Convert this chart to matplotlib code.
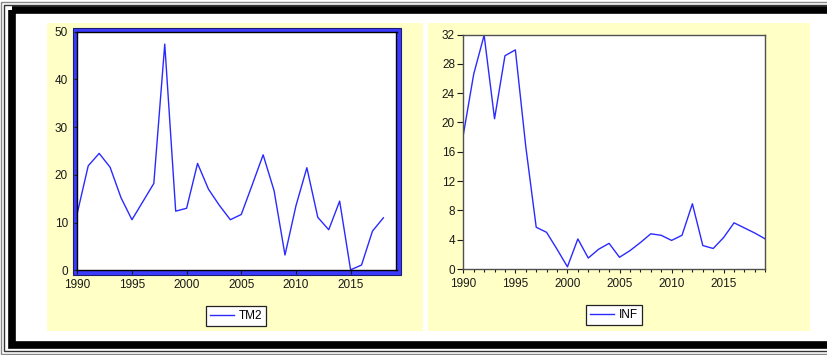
import matplotlib
matplotlib.use('Agg')
import matplotlib.pyplot as plt
from matplotlib.patches import Rectangle
import numpy as np

# data
years_tm2 = list(range(1990, 2019))
tm2 = [12.0, 21.9, 24.5, 21.6, 15.2, 10.6, 14.4, 18.2, 47.4, 12.4,
       13.0, 22.4, 17.0, 13.6, 10.6, 11.7, 17.9, 24.2, 16.7, 3.2,
       13.5, 21.5, 11.1, 8.5, 14.5, 0.1, 1.1, 8.2, 11.0]

years_inf = list(range(1990, 2020))
inf = [18.3, 26.6, 31.9, 20.5, 29.1, 29.9, 16.7, 5.7, 5.0, 2.7,
       0.3, 4.1, 1.5, 2.7, 3.5, 1.6, 2.5, 3.6, 4.8, 4.6,
       3.9, 4.6, 8.9, 3.2, 2.8, 4.3, 6.3, 5.6, 4.9, 4.1]

tm2_ticks = [0, 10, 20, 30, 40, 50]
inf_ticks = [0, 4, 8, 12, 16, 20, 24, 28, 32]
year_ticks = [1990, 1995, 2000, 2005, 2010, 2015]

W, H = 828, 355
plt.rcParams['font.family'] = ['Liberation Sans', 'DejaVu Sans']
fig = plt.figure(figsize=(W / 100, H / 100), dpi=100)
fig.patch.set_facecolor('white')


def px_axes(x0, y0, x1, y1, **kw):
    """Add axes given pixel box (top-left origin)."""
    return fig.add_axes([x0 / W, 1 - y1 / H, (x1 - x0) / W, (y1 - y0) / H], **kw)


# background: frame, yellow panels, blue selection box
bg = px_axes(0, 0, W, H, zorder=0)
bg.set_xlim(0, W)
bg.set_ylim(H, 0)
bg.axis('off')


def rect(x0, y0, x1, y1, **kw):
    bg.add_patch(Rectangle((x0, y0), x1 - x0, y1 - y0, **kw))


# outer border lines
rect(1.5, 1.5, W + 5, H - 1.5, fill=False, edgecolor='#888888', lw=1.0)
rect(4.5, 4.5, W + 5, H - 4.0, fill=False, edgecolor='#333333', lw=1.0)
rect(12, 10, W + 5, 345, fill=False, edgecolor='black', lw=5.5)

# yellow panels
yellow = '#ffffc6'
rect(47, 23, 423, 331, facecolor=yellow, edgecolor='none')
rect(428, 23, 810, 331, facecolor=yellow, edgecolor='none')

# blue box around the left graph
rect(73, 28, 401, 274.5, facecolor='#3b3bff', edgecolor='#1c1c70', lw=0.8)

tick_color = '#1a1a1a'

# left graph: TM2
ax1 = px_axes(77.3, 31.7, 396.5, 270.3, zorder=2)
ax1.set_facecolor('white')
ax1.plot(years_tm2, tm2, color='#2a2aff', lw=1.0, label='TM2')
ax1.set_xlim(1990, 2019.2)
ax1.set_ylim(0, 50)
ax1.set_xticks(year_ticks)
ax1.set_yticks(tm2_ticks)
for s in ax1.spines.values():
    s.set_color('black')
    s.set_linewidth(1.0)
ax1.tick_params(axis='y', direction='out', length=2.2, width=0.8, pad=4.5,
                labelsize=8.5, colors=tick_color)
ax1.tick_params(axis='x', direction='out', length=2.9, width=0.8, pad=3.6,
                labelsize=8.5, colors=tick_color)
leg1 = ax1.legend(loc='center', bbox_to_anchor=(236 / W, 1 - 316 / H),
                  bbox_transform=fig.transFigure, fontsize=8.5, frameon=True,
                  fancybox=False, framealpha=1, edgecolor='#222222',
                  handlelength=2.0, handletextpad=0.4, borderpad=0.35,
                  borderaxespad=0)
leg1.get_frame().set_linewidth(0.9)

# right graph: INF
ax2 = px_axes(463.3, 34.5, 765.3, 269.0, zorder=2)
ax2.set_facecolor('white')
ax2.plot(years_inf, inf, color='#2a2aff', lw=1.0, label='INF')
ax2.set_xlim(1990, 2019)
ax2.set_ylim(0, 32)
ax2.set_xticks(year_ticks)
ax2.set_xticks(range(1990, 2020), minor=True)
ax2.set_yticks(inf_ticks)
for s in ax2.spines.values():
    s.set_color('#505050')
    s.set_linewidth(1.0)
ax2.tick_params(axis='y', direction='out', length=4.0, width=0.8, pad=2.0,
                labelsize=8.5, colors=tick_color)
ax2.tick_params(axis='x', which='major', direction='out', length=2.9, width=0.8,
                pad=3.5, labelsize=8.5, colors=tick_color)
ax2.tick_params(axis='x', which='minor', direction='out', length=2.0, width=0.8,
                colors=tick_color)
leg2 = ax2.legend(loc='center', bbox_to_anchor=(614 / W, 1 - 315 / H),
                  bbox_transform=fig.transFigure, fontsize=8.5, frameon=True,
                  fancybox=False, framealpha=1, edgecolor='#222222',
                  handlelength=2.0, handletextpad=0.4, borderpad=0.35,
                  borderaxespad=0)
leg2.get_frame().set_linewidth(0.9)

fig.savefig('out.png', dpi=100)
